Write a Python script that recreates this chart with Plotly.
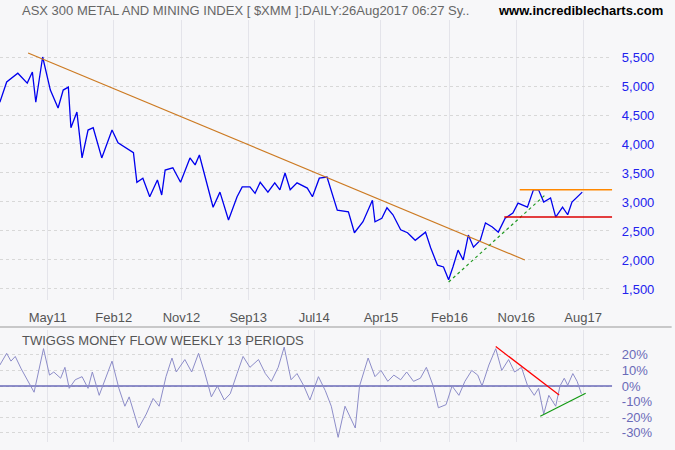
import plotly.graph_objects as go

# Price series (decimal year, index value)
price_t = [2010.77,2010.85,2010.98,2011.09,2011.15,2011.19,2011.27,2011.36,2011.45,2011.51,2011.57,2011.60,2011.67,2011.73,2011.80,2011.86,2011.96,2012.08,2012.15,2012.27,2012.33,2012.37,2012.44,2012.52,2012.61,2012.66,2012.70,2012.79,2012.88,2012.99,2013.05,2013.10,2013.17,2013.26,2013.34,2013.44,2013.54,2013.60,2013.69,2013.75,2013.81,2013.90,2013.98,2014.04,2014.10,2014.16,2014.24,2014.36,2014.42,2014.50,2014.59,2014.71,2014.84,2014.91,2015.01,2015.06,2015.12,2015.15,2015.23,2015.29,2015.36,2015.45,2015.53,2015.62,2015.74,2015.80,2015.88,2015.95,2016.01,2016.06,2016.12,2016.18,2016.24,2016.30,2016.38,2016.44,2016.52,2016.59,2016.67,2016.76,2016.82,2016.93,2017.00,2017.06,2017.12,2017.20,2017.26,2017.34,2017.40,2017.45,2017.57]
price_v = [4720,5070,5220,5050,5240,4720,5500,4930,4620,4930,4980,4280,4550,3760,4240,4280,3760,4240,4020,3900,3850,3340,3410,3090,3380,3120,3550,3590,3340,3760,3640,3810,3430,2910,3170,2690,3090,3260,3260,3150,3340,3170,3330,3210,3500,3210,3330,3240,3090,3410,3430,2860,2830,2470,2660,2830,3030,2660,2720,2900,2780,2520,2470,2340,2480,2210,1910,1880,1660,1880,2170,2000,2430,2220,2340,2640,2570,2480,2720,2810,2980,2910,3210,3210,3000,3070,2740,2910,2780,3000,3170]

# Twiggs Money Flow (decimal year, %)
tmf_t = [2010.77,2010.85,2010.90,2010.95,2011.02,2011.10,2011.17,2011.28,2011.35,2011.40,2011.48,2011.53,2011.58,2011.65,2011.73,2011.80,2011.85,2011.93,2012.00,2012.08,2012.16,2012.23,2012.28,2012.39,2012.48,2012.56,2012.63,2012.71,2012.78,2012.83,2012.93,2013.01,2013.09,2013.16,2013.24,2013.31,2013.39,2013.46,2013.54,2013.61,2013.69,2013.79,2013.87,2013.94,2014.02,2014.09,2014.17,2014.24,2014.32,2014.39,2014.49,2014.57,2014.64,2014.72,2014.80,2014.87,2014.92,2014.97,2015.07,2015.15,2015.22,2015.30,2015.37,2015.45,2015.52,2015.60,2015.68,2015.75,2015.83,2015.89,2015.98,2016.05,2016.13,2016.20,2016.28,2016.35,2016.40,2016.48,2016.56,2016.63,2016.71,2016.78,2016.86,2016.93,2017.01,2017.06,2017.12,2017.18,2017.26,2017.31,2017.36,2017.40,2017.46,2017.51,2017.56]
tmf_v = [13.5,21,16,19,11,3,-4,24,7,9,5,12,-1.5,4,6,-1.5,9,-6,4,16,-1.5,-13,-7,-27,-18,-8,-13,6,18,9,17,9,21,9,-7,0,-9,-5,8,19,12,17,8,3,12,25,4,8,0,-9,6,-3,-13,-33,-13,-21,-27,0,18,6,10,3,7,4,9,3,5,12,0,-14,-12,0,-6,3,10,7,0,13.5,24,10,17,9,12,0.5,-6,-1.5,-18,-6,-13,0,5,0.5,8,3,-5]

tick_pos = [2011.33,2012.10,2012.89,2013.67,2014.44,2015.22,2016.02,2016.80,2017.58]
tick_lbl = ["May11","Feb12","Nov12","Sep13","Jul14","Apr15","Feb16","Nov16","Aug17"]
price_ticks = [1500,2000,2500,3000,3500,4000,4500,5000,5500]
tmf_ticks = [-30,-20,-10,0,10,20]
tmf_lbl = ["-30%","-20%","-10%","0%","10%","20%"]

# trendlines (year, value)
down_t, down_v = [2011.10, 2016.90], [5570, 2000]
up_t, up_v = [2016.01, 2017.15], [1620, 3140]
res_t, res_v = [2016.84, 2017.92], [3210, 3210]
sup_t, sup_v = [2016.66, 2017.92], [2740, 2740]
tdown_t, tdown_v = [2016.56, 2017.30], [25.4, -5.8]
tup_t, tup_v = [2017.08, 2017.61], [-19.4, -4.7]

XR = [2010.772, 2017.92]
fig = go.Figure()
fig.add_trace(go.Scatter(x=price_t, y=price_v, mode="lines", line=dict(color="#0000ee", width=1.3), xaxis="x", yaxis="y"))
fig.add_trace(go.Scatter(x=down_t, y=down_v, mode="lines", line=dict(color="#cc7a22", width=1.2), xaxis="x", yaxis="y"))
fig.add_trace(go.Scatter(x=up_t, y=up_v, mode="lines", line=dict(color="#229922", width=1.2, dash="dot"), xaxis="x", yaxis="y"))
fig.add_trace(go.Scatter(x=res_t, y=res_v, mode="lines", line=dict(color="#ff8800", width=1.5), xaxis="x", yaxis="y"))
fig.add_trace(go.Scatter(x=sup_t, y=sup_v, mode="lines", line=dict(color="#dd0000", width=1.5), xaxis="x", yaxis="y"))
fig.add_trace(go.Scatter(x=XR, y=[0, 0], mode="lines", line=dict(color="#6a6ab8", width=1.3), xaxis="x2", yaxis="y2"))
fig.add_trace(go.Scatter(x=tmf_t, y=tmf_v, mode="lines", line=dict(color="#8c8cc8", width=1), xaxis="x2", yaxis="y2"))
fig.add_trace(go.Scatter(x=tdown_t, y=tdown_v, mode="lines", line=dict(color="#ff0000", width=1.2), xaxis="x2", yaxis="y2"))
fig.add_trace(go.Scatter(x=tup_t, y=tup_v, mode="lines", line=dict(color="#119911", width=1.2), xaxis="x2", yaxis="y2"))

grid = "#e4e4ea"
fig.update_layout(
    width=675, height=450, margin=dict(l=0, r=0, t=0, b=0, autoexpand=False),
    paper_bgcolor="#f7f7f9", plot_bgcolor="#f7f7f9", showlegend=False,
    font=dict(family="Liberation Sans, Arial", size=13, color="#555"),
    xaxis=dict(domain=[0, 0.907], range=XR, tickvals=tick_pos, ticktext=tick_lbl, showgrid=True,
               gridcolor=grid, zeroline=False, ticks="outside", ticklen=5, tickcolor="rgba(0,0,0,0)",
               automargin=False, tickfont=dict(size=13, color="#555")),
    yaxis=dict(domain=[1-300/450, 1-20/450], range=[1310, 6138], side="right", tickvals=price_ticks,
               tickformat=",", gridcolor="#d8d8d8", griddash="dot", zeroline=False, automargin=False,
               ticks="outside", ticklen=6, tickcolor="rgba(0,0,0,0)",
               tickfont=dict(size=13, color="#2222ee")),
    xaxis2=dict(domain=[0, 0.907], range=XR, anchor="y2", tickvals=tick_pos, showticklabels=False,
                showgrid=True, gridcolor=grid, zeroline=False, automargin=False),
    yaxis2=dict(domain=[8/450, 120/450], range=[-36, 36], side="right", anchor="x2", tickvals=tmf_ticks,
                ticktext=tmf_lbl, gridcolor="#d8d8d8", griddash="dot", zeroline=False, automargin=False,
                ticks="outside", ticklen=6, tickcolor="rgba(0,0,0,0)",
                tickfont=dict(size=13, color="#6a6ab8")),
    shapes=[dict(type="line", xref="paper", yref="paper", x0=0, x1=0.995, y0=1-327/450, y1=1-327/450,
                 line=dict(color="#999", width=1))],
    annotations=[
        dict(text="ASX 300 METAL AND MINING INDEX [ $XMM ]:DAILY:26Aug2017 06:27 Sy..", x=20/675, y=1-10/450,
             xref="paper", yref="paper", xanchor="left", yanchor="middle", showarrow=False,
             font=dict(size=13, color="#666")),
        dict(text="<b>www.incrediblecharts.com</b>", x=665/675, y=1-10/450, xref="paper", yref="paper",
             xanchor="right", yanchor="middle", showarrow=False, font=dict(size=13, color="#000")),
        dict(text="TWIGGS MONEY FLOW WEEKLY 13 PERIODS", x=20/675, y=1-340/450, xref="paper", yref="paper",
             xanchor="left", yanchor="middle", showarrow=False, font=dict(size=13, color="#555")),
    ],
)
fig.write_html("out.html", config={"displayModeBar": False})
with open("out.html", encoding="utf-8") as f:
    html = f.read()
html = html.replace("<head>", "<head><style>html,body{margin:0;padding:0;overflow:hidden;}</style>", 1)
with open("out.html", "w", encoding="utf-8") as f:
    f.write(html)
